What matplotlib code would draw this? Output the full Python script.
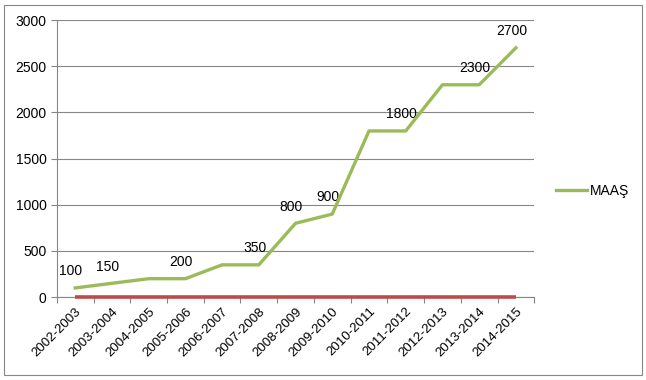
import matplotlib.pyplot as plt
from matplotlib.patches import Rectangle

years = ["2002-2003", "2003-2004", "2004-2005", "2005-2006", "2006-2007",
         "2007-2008", "2008-2009", "2009-2010", "2010-2011", "2011-2012",
         "2012-2013", "2013-2014", "2014-2015"]
maas = [100, 150, 200, 200, 350, 350, 800, 900, 1800, 1800, 2300, 2300, 2700]
other = [0] * len(years)
# only some points carry a value label in the original
shown = [True, True, False, True, False, True, True, True, False, True, False, True, True]

plt.rcParams['font.family'] = ['Liberation Sans', 'DejaVu Sans']

fig = plt.figure(figsize=(6.46, 3.80), dpi=100)
ax = fig.add_axes([0.088, 0.218, 0.739, 0.729])

x = range(len(years))
ax.plot(x, other, color='#BE4B48', lw=2.6, solid_capstyle='butt', zorder=3, clip_on=False)
ax.plot(x, maas, color='#9BBB59', lw=2.4, label='MAAŞ', zorder=4)

for i, v in enumerate(maas):
    if shown[i]:
        ax.annotate(str(v), (i, v), xytext=(-3, 7), textcoords='offset points',
                    ha='center', va='bottom', fontsize=10)

ax.set_xlim(-0.5, len(years) - 0.5)
ax.set_ylim(0, 3000)
ax.set_yticks(range(0, 3001, 500))
ax.set_xticks([i - 0.5 for i in range(len(years) + 1)], minor=False)
ax.set_xticklabels([])
ax.set_xticks(list(x), minor=True)
ax.set_xticklabels(years, minor=True, rotation=45, ha='right', rotation_mode='anchor',
                   fontsize=9.5)
ax.tick_params(axis='x', which='minor', length=0, pad=6)
ax.tick_params(axis='x', which='major', length=4, color='#868686', direction='out')
ax.tick_params(axis='y', length=4, color='#868686', labelsize=10)

ax.grid(axis='y', color='#868686', lw=0.8)
ax.set_axisbelow(True)
for s in ['top', 'right']:
    ax.spines[s].set_visible(False)
for s in ['left', 'bottom']:
    ax.spines[s].set_color('#868686')
    ax.spines[s].set_linewidth(0.8)

ax.legend(loc='center left', bbox_to_anchor=(1.02, 0.385), frameon=False,
          fontsize=10, handlelength=2.2, handletextpad=0.2)

fig.add_artist(Rectangle((0.006, 0.012), 0.988, 0.976, transform=fig.transFigure,
                         fill=False, edgecolor='#868686', lw=0.8))

fig.savefig('out.png', dpi=100)
